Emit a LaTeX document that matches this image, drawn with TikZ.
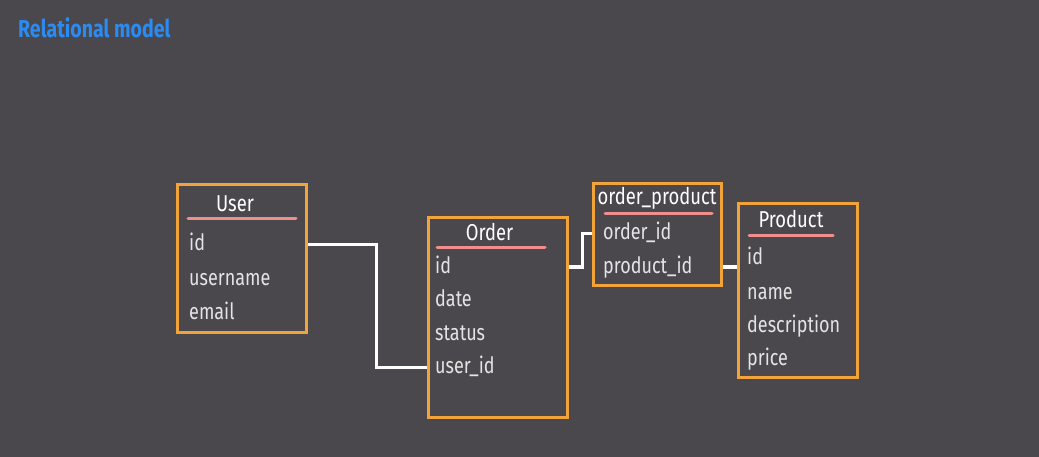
\documentclass[tikz,border=0pt]{standalone}
\usepackage{fontspec}
\setmainfont{Fira Sans}[FakeStretch=0.8]
\usetikzlibrary{positioning, calc}
\definecolor{BgGrey}{HTML}{4A484D}
\definecolor{BoxOrange}{HTML}{F2A33A}
\definecolor{LinePink}{HTML}{F08E8E}
\definecolor{HeadBlue}{HTML}{2A8BF2}
\definecolor{RowGrey}{HTML}{E4E4E4}

\begin{document}
\begin{tikzpicture}[
        x=1pt, y=-1pt,
        tbl/.style={draw=BoxOrange, line width=3pt, inner sep=0pt},
        ttl/.style={anchor=base, inner sep=0pt, text=white, font=\fontsize{23}{26}\selectfont},
        row/.style={anchor=west, inner sep=0pt, text=RowGrey, text height=16pt, text depth=4pt,
                    font=\fontsize{22.5}{26}\selectfont},
        ul/.style={LinePink, line width=3pt, line cap=round},
        link/.style={white, line width=3pt},
      ]
        \fill[BgGrey] (0,0) rectangle (1039,457);
        \useasboundingbox (0,0) rectangle (1039,457);
        \node[anchor=west, inner sep=0pt, text=HeadBlue, font=\fontsize{24.5}{28}\selectfont\bfseries] (head) at (18,28) {Relational model};
        % User
        \node[tbl, minimum width=129pt, minimum height=147pt] (user) at (241.5,258.5) {};
        \node[ttl] (usert) at (235,212) {User};
        \draw[ul] (188,219) -- (296,219);
        \node[row] (uid) at (189,245) {id};
        \node[row] (uname) at (189,279) {username};
        \node[row] (umail) at (189,313) {email};
        % Order
        \node[tbl, minimum width=139pt, minimum height=199pt] (order) at (497.5,317.5) {};
        \node[ttl] (ordert) at (489.5,241) {Order};
        \draw[ul] (437,248) -- (545,248);
        \node[row] (oid) at (435,267) {id};
        \node[row] (odate) at (435,300) {date};
        \node[row] (ostat) at (435,334) {status};
        \node[row] (ouser) at (435,367) {user\_id};
        % order_product
        \node[tbl, minimum width=128pt, minimum height=101pt] (op) at (657,234.5) {};
        \node[ttl] (opt) at (657,205) {order\_product};
        \draw[ul] (605,214) -- (712,214);
        \node[row] (opord) at (603,234) {order\_id};
        \node[row] (opprod) at (603,267) {product\_id};
        % Product
        \node[tbl, minimum width=119pt, minimum height=173pt] (prod) at (797.5,290.5) {};
        \node[ttl] (prodt) at (791,228) {Product};
        \draw[ul] (749,236) -- (833,236);
        \node[row] (pid) at (747,259) {id};
        \node[row] (pname) at (747,293) {name};
        \node[row] (pdesc) at (747,326) {description};
        \node[row] (pprice) at (747,359) {price};
        % links
        \draw[link] (user.east |- uid) -- ++(69,0) |- (order.west |- ouser);
        \draw[link] (order.east |- opprod) -- ++(14,0) |- (op.west |- opord);
        \draw[link] (op.east |- opprod) -- (prod.west |- opprod);
      \end{tikzpicture}
\end{document}
